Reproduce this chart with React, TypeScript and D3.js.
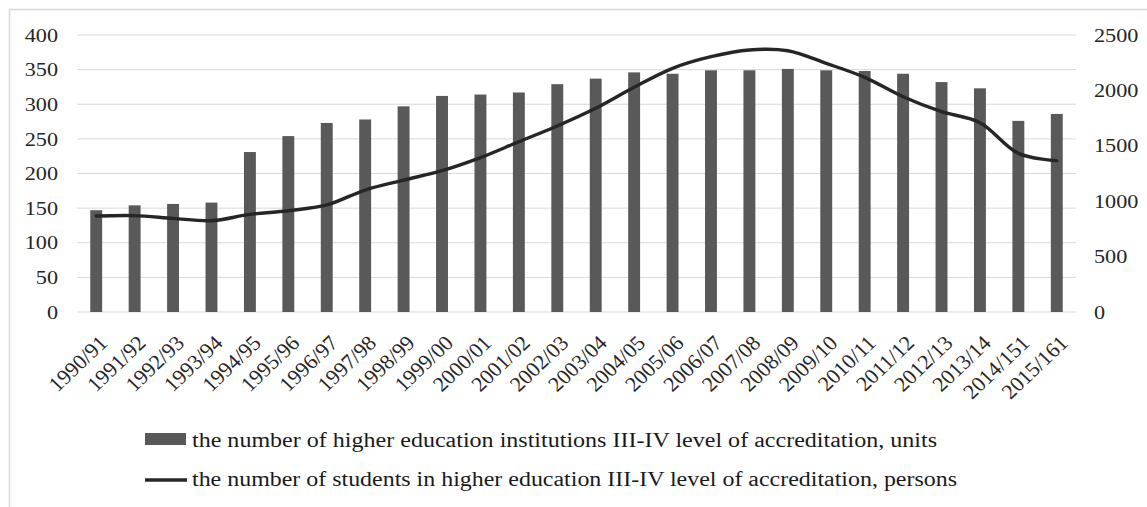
import React from "react";
import * as d3 from "d3";

const categories = ["1990/91","1991/92","1992/93","1993/94","1994/95","1995/96","1996/97","1997/98","1998/99","1999/00","2000/01","2001/02","2002/03","2003/04","2004/05","2005/06","2006/07","2007/08","2008/09","2009/10","2010/11","2011/12","2012/13","2013/14","2014/151","2015/161"];
const institutions = [147,154,156,158,231,254,273,278,297,312,314,317,329,337,346,344,349,349,351,349,348,344,332,323,276,286];
const students = [866,870,845,824,881,914,966,1101,1190,1275,1393,1537,1679,1838,2028,2199,2304,2365,2358,2244,2118,1943,1808,1709,1432,1366];
const leftTicks = [0,50,100,150,200,250,300,350,400];
const rightTicks = [0,500,1000,1500,2000,2500];
const legendLabels = [
  "the number of higher education institutions III-IV level of accreditation, units",
  "the number of students in higher education III-IV level of accreditation, persons",
];

const W = 1147, H = 507;
const FONT = "Liberation Serif";
const SX = 1.17;

export default function App() {
  const x = d3.scaleBand<string>().domain(categories).range([77, 1076]).paddingInner(0.69).paddingOuter(0.345);
  const yL = d3.scaleLinear().domain([0, 400]).range([312, 35]);
  const yR = d3.scaleLinear().domain([0, 2500]).range([312, 35]);
  const cx = (c: string) => (x(c) as number) + x.bandwidth() / 2;
  const line = d3.line<number>().x((_, i) => cx(categories[i])).y(d => yR(d)).curve(d3.curveCatmullRom.alpha(0.5));
  const ts = { fontFamily: FONT };

  return (
    <svg width={W} height={H} style={{ position: "absolute", left: 0, top: 0 }}>
      <rect x={0} y={0} width={W} height={H} fill="#fff" />
      <rect x={9.5} y={9.5} width={W + 20} height={H + 20} fill="none" stroke="#d9d9d9" strokeWidth={1.5} />
      {leftTicks.map(t => (
        <line key={"g" + t} x1={77} x2={1076} y1={yL(t)} y2={yL(t)} stroke="#d9d9d9" strokeWidth={1} />
      ))}
      {categories.map((c, i) => (
        <rect key={c} x={x(c)} y={yL(institutions[i])} width={x.bandwidth()} height={yL(0) - yL(institutions[i])} fill="#595959" />
      ))}
      <path d={line(students) || ""} fill="none" stroke="#262626" strokeWidth={3.4} strokeLinejoin="round" strokeLinecap="round" />
      {leftTicks.map(t => (
        <text key={"l" + t} style={ts} transform={`translate(58,${yL(t)}) scale(${SX},1)`} textAnchor="end" dy="0.35em" fontSize={19} fill="#262626">{t}</text>
      ))}
      {rightTicks.map(t => (
        <text key={"r" + t} style={ts} transform={`translate(1094,${yR(t)}) scale(${SX},1)`} textAnchor="start" dy="0.35em" fontSize={19} fill="#262626">{t}</text>
      ))}
      {categories.map(c => (
        <text key={"x" + c} style={ts} transform={`translate(${cx(c) + 7},${339}) scale(1.05,1) rotate(-45)`} textAnchor="end" dy="0.35em" fontSize={21} fill="#262626">{c}</text>
      ))}
      <rect x={145} y={433} width={41} height={12} fill="#595959" />
      <text x={192} y={447} style={ts} fontSize={20.5} fill="#1a1a1a" textLength={745} lengthAdjust="spacingAndGlyphs">{legendLabels[0]}</text>
      <line x1={145} x2={187} y1={480} y2={480} stroke="#262626" strokeWidth={3.4} />
      <text x={192} y={486} style={ts} fontSize={20.5} fill="#1a1a1a" textLength={765} lengthAdjust="spacingAndGlyphs">{legendLabels[1]}</text>
    </svg>
  );
}
